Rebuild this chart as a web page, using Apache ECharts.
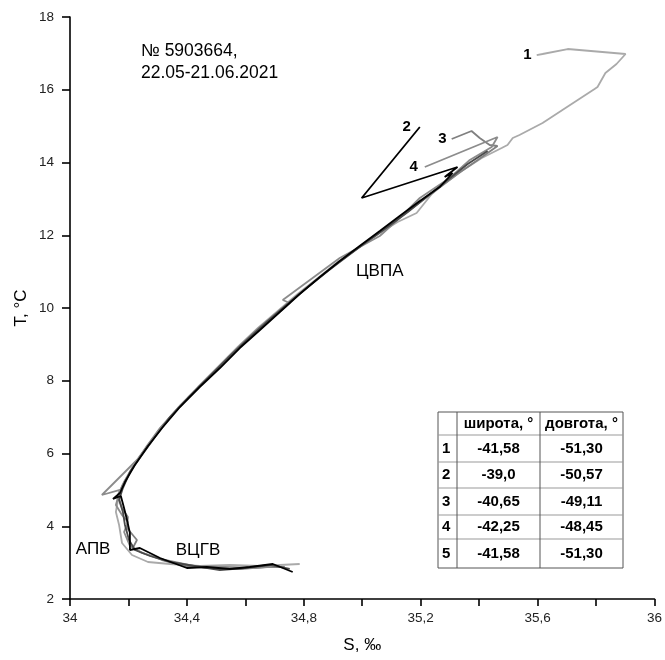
<!DOCTYPE html>
<html><head><meta charset="utf-8">
<script src="https://cdn.jsdelivr.net/npm/echarts@6/dist/echarts.min.js"></script>
<style>html,body{margin:0;padding:0;background:#fff}#c{width:665px;height:660px}</style>
</head><body><div id="c"></div>
<script>
// Profile 1 (light gray)
const prof1 = [[35.597,16.955],[35.617,16.983],[35.703,17.120],[35.901,16.983],[35.870,16.708],[35.832,16.460],[35.805,16.076],[35.795,16.021],[35.685,15.443],[35.617,15.086],[35.538,14.756],[35.515,14.673],[35.497,14.481],[35.477,14.399],[35.409,14.124],[35.340,13.766],[35.265,13.326],[35.238,13.134],[35.186,12.612],[35.121,12.364],[35.060,12.062],[34.985,11.650],[34.916,11.265],[34.848,10.825],[34.779,10.385],[34.711,9.918],[34.643,9.450],[34.574,8.928],[34.506,8.378],[34.438,7.828],[34.376,7.278],[34.308,6.646],[34.256,6.096],[34.212,5.601],[34.178,5.106],[34.164,4.722],[34.157,4.392],[34.168,4.034],[34.178,3.539],[34.212,3.210],[34.267,3.017],[34.342,2.962],[34.444,2.907],[34.547,2.935],[34.650,2.907],[34.718,2.935],[34.786,2.962]];
// Profile 2 (black)
const prof2 = [[35.197,14.976],[34.998,13.024],[35.326,13.876],[35.282,13.601],[35.309,13.711],[35.265,13.326],[35.197,12.942],[35.128,12.529],[35.060,12.117],[34.991,11.705],[34.923,11.292],[34.855,10.852],[34.786,10.385],[34.718,9.890],[34.650,9.395],[34.581,8.900],[34.513,8.350],[34.444,7.828],[34.376,7.278],[34.315,6.701],[34.267,6.206],[34.222,5.684],[34.188,5.216],[34.171,4.914],[34.147,4.749],[34.174,4.832],[34.185,4.502],[34.195,4.172],[34.205,3.814],[34.205,3.347],[34.239,3.402],[34.308,3.127],[34.400,2.852],[34.468,2.880],[34.547,2.825],[34.615,2.880],[34.694,2.962],[34.762,2.742]];
// Profile 3 (gray)
const prof3 = [[35.306,14.646],[35.374,14.866],[35.402,14.673],[35.436,14.481],[35.463,14.454],[35.395,14.069],[35.326,13.684],[35.258,13.271],[35.190,12.859],[35.121,12.447],[35.053,12.034],[34.985,11.650],[34.916,11.237],[34.848,10.797],[34.779,10.357],[34.711,9.890],[34.643,9.423],[34.574,8.900],[34.506,8.350],[34.438,7.801],[34.369,7.251],[34.308,6.701],[34.263,6.206],[34.222,5.711],[34.185,5.216],[34.164,4.859],[34.178,4.502],[34.198,4.254],[34.195,3.952],[34.229,3.622],[34.215,3.402],[34.250,3.265],[34.315,3.072],[34.393,2.907],[34.479,2.852],[34.581,2.825],[34.667,2.880],[34.735,2.880]];
// Profile 4 (gray)
const prof4 = [[35.214,13.876],[35.463,14.701],[35.443,14.426],[35.368,14.069],[35.299,13.574],[35.197,13.024],[35.128,12.474],[35.060,11.979],[34.923,11.375],[34.728,10.220],[34.752,10.137],[34.701,9.780],[34.650,9.478],[34.581,8.955],[34.513,8.405],[34.444,7.856],[34.376,7.306],[34.308,6.673],[34.229,5.821],[34.109,4.859],[34.171,4.997],[34.157,4.584],[34.178,4.309],[34.198,4.117],[34.185,3.842],[34.205,3.457],[34.246,3.265],[34.325,3.072],[34.427,2.907],[34.530,2.880],[34.632,2.852],[34.718,2.907]];
// Profile 5 (dark gray)
const prof5 = [[35.429,14.316],[35.361,13.959],[35.292,13.519],[35.224,13.079],[35.156,12.639],[35.087,12.227],[35.019,11.842],[34.950,11.430],[34.882,11.017],[34.814,10.577],[34.745,10.110],[34.677,9.643],[34.609,9.148],[34.540,8.625],[34.472,8.076],[34.403,7.526],[34.342,7.003],[34.291,6.454],[34.246,5.959],[34.205,5.491],[34.181,5.051],[34.168,4.722],[34.181,4.392],[34.188,4.034],[34.202,3.622],[34.222,3.347],[34.274,3.182],[34.342,3.017],[34.427,2.907],[34.513,2.797],[34.598,2.852],[34.684,2.935],[34.752,2.825]];

const profileLabels = ['1','2','3','4',''];
const profileColors = ['#aaaaaa','#000000','#808080','#8c8c8c','#4a4a4a'];
const labelGaps = [5,9,5,7,0];

const waterNames = ['ЦВПА','АПВ','ВЦГВ'];
const waterS = [35.06, 34.079, 34.438];
const waterT = [11.02, 3.36, 3.33];

const xTicks = [34, 34.4, 34.8, 35.2, 35.6, 36];
const yTicks = [2, 4, 6, 8, 10, 12, 14, 16, 18];

const tableHeader = ['', 'широта, °', 'довгота, °'];
const tableNum = ['1','2','3','4','5'];
const tableLat = ['-41,58','-39,0','-40,65','-42,25','-41,58'];
const tableLon = ['-51,30','-50,57','-49,11','-48,45','-51,30'];

const titleLines = ['№ 5903664,', '22.05-21.06.2021'];

const FONT = 'Liberation Sans, Arial, sans-serif';
const profiles = [prof1, prof2, prof3, prof4, prof5];
const drawOrder = [0, 2, 3, 4, 1];

const series = drawOrder.map(i => ({
  type: 'line',
  data: profiles[i],
  showSymbol: false,
  symbol: 'none',
  lineStyle: { color: profileColors[i], width: 1.8 },
  itemStyle: { color: profileColors[i] },
  z: 2 + drawOrder.indexOf(i),
  silent: true,
  animation: false
}));

// Table geometry
const colX = [438, 457, 540, 623];
const rowY = [412, 435, 462, 488, 515, 539, 568];
const graphics = [];
graphics.push({ type: 'rect', shape: { x: colX[0], y: rowY[0], width: colX[3]-colX[0], height: rowY[6]-rowY[0] },
  style: { fill: '#fff', stroke: '#555', lineWidth: 1 }, z: 30 });
for (let r = 1; r < rowY.length - 1; r++) {
  graphics.push({ type: 'line', shape: { x1: colX[0], y1: rowY[r], x2: colX[3], y2: rowY[r] },
    style: { stroke: '#999', lineWidth: 1 }, z: 31 });
}
for (let c = 1; c < colX.length - 1; c++) {
  graphics.push({ type: 'line', shape: { x1: colX[c], y1: rowY[0], x2: colX[c], y2: rowY[6] },
    style: { stroke: '#555', lineWidth: 1 }, z: 31 });
}
const cell = (txt, c, r, align) => ({
  type: 'text', z: 32,
  style: { text: txt, x: align === 'left' ? colX[c] + 4 : (colX[c] + colX[c+1]) / 2,
    y: (rowY[r] + rowY[r+1]) / 2, align: align || 'center', verticalAlign: 'middle',
    font: 'bold 15px ' + FONT, fill: '#000' }
});
graphics.push(cell(tableHeader[1], 1, 0));
graphics.push(cell(tableHeader[2], 2, 0));
for (let i = 0; i < tableNum.length; i++) {
  graphics.push(cell(tableNum[i], 0, i + 1, 'left'));
  graphics.push(cell(tableLat[i], 1, i + 1));
  graphics.push(cell(tableLon[i], 2, i + 1));
}
titleLines.forEach((t, i) => graphics.push({
  type: 'text', z: 32,
  style: { text: t, x: 141, y: 51 + i * 22, align: 'left', verticalAlign: 'middle', font: '17.5px ' + FONT, fill: '#000' }
}));

const fmt = v => {
  const s = (Math.round(v * 10) / 10).toString();
  return s.replace('.', ',');
};

const chart = echarts.init(document.getElementById('c'), null, { renderer: 'canvas' });
chart.setOption({
  animation: false,
  backgroundColor: '#fff',
  grid: { left: 70, right: 10, top: 17, bottom: 61, containLabel: false },
  xAxis: {
    type: 'value', min: xTicks[0], max: xTicks[xTicks.length-1], interval: 0.4,
    name: 'S, ‰', nameLocation: 'middle', nameGap: 38, nameMoveOverlap: false,
    nameTextStyle: { fontFamily: FONT, fontSize: 17, color: '#000' },
    axisLine: { show: true, onZero: false, lineStyle: { color: '#000', width: 1.6 } },
    axisTick: { show: true, length: 7, lineStyle: { color: '#000', width: 1.6 } },
    minorTick: { show: true, splitNumber: 2, length: 7, lineStyle: { color: '#000', width: 1.6 } },
    axisLabel: { margin: 12, fontFamily: FONT, fontSize: 13.5, color: '#222', formatter: fmt },
    splitLine: { show: false }
  },
  yAxis: {
    type: 'value', min: yTicks[0], max: yTicks[yTicks.length-1], interval: 2,
    name: 'T, °C', nameLocation: 'middle', nameGap: 40, nameRotate: 90, nameMoveOverlap: false,
    nameTextStyle: { fontFamily: FONT, fontSize: 17, color: '#000' },
    axisLine: { show: true, onZero: false, lineStyle: { color: '#000', width: 1.6 } },
    axisTick: { show: true, length: 8, lineStyle: { color: '#000', width: 1.6 } },
    axisLabel: { margin: 16, fontFamily: FONT, fontSize: 13.5, color: '#222', formatter: fmt },
    splitLine: { show: false }
  },
  series: series,
  graphic: graphics
});

// Annotations placed at data coordinates
const annot = waterNames.map((n, i) => {
  const pt = chart.convertToPixel({ gridIndex: 0 }, [waterS[i], waterT[i]]);
  return { type: 'text', z: 33, style: { text: n, x: pt[0], y: pt[1], align: 'center', verticalAlign: 'middle',
    font: '17px ' + FONT, fill: '#000' } };
});
profiles.forEach((p, i) => {
  if (!profileLabels[i]) return;
  const pt = chart.convertToPixel({ gridIndex: 0 }, p[0]);
  annot.push({ type: 'text', z: 33, style: { text: profileLabels[i], x: pt[0] - labelGaps[i], y: pt[1],
    align: 'right', verticalAlign: 'middle', font: 'bold 15px ' + FONT, fill: '#000' } });
});
chart.setOption({ graphic: graphics.concat(annot) });
</script></body></html>
